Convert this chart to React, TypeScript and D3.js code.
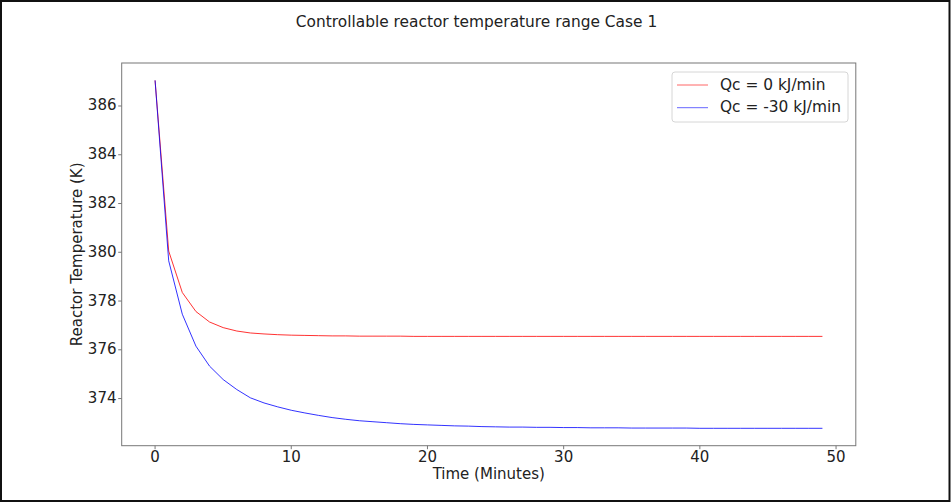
import React from "react";
import * as d3 from "d3";

const title = "Controllable reactor temperature range Case 1";
const xLabel = "Time (Minutes)";
const yLabel = "Reactor Temperature (K)";
const seriesNames = ["Qc = 0 kJ/min", "Qc = -30 kJ/min"];
const seriesColors = ["#ff0000", "#0000ff"];

const time = [
  0, 1, 2, 3, 4, 5, 6, 7, 8, 9, 10, 11, 12, 13, 14, 15, 16, 17, 18, 19, 20, 21, 22, 23, 24,
  25, 26, 27, 28, 29, 30, 31, 32, 33, 34, 35, 36, 37, 38, 39, 40, 41, 42, 43, 44, 45, 46, 47, 48, 49,
];

const tempQc0 = [
  387.05, 380.05, 378.35, 377.57, 377.14, 376.91, 376.77, 376.69, 376.65, 376.62,
  376.6, 376.59, 376.58, 376.57, 376.57, 376.56, 376.56, 376.56, 376.56, 376.55,
  376.55, 376.55, 376.55, 376.55, 376.55, 376.55, 376.55, 376.55, 376.55, 376.55,
  376.55, 376.55, 376.55, 376.55, 376.55, 376.55, 376.55, 376.55, 376.55, 376.55,
  376.55, 376.55, 376.55, 376.55, 376.55, 376.55, 376.55, 376.55, 376.55, 376.55,
];

const tempQcMinus30 = [
  387.05, 379.65, 377.46, 376.15, 375.33, 374.78, 374.37, 374.03, 373.82, 373.66,
  373.52, 373.41, 373.31, 373.22, 373.15, 373.09, 373.05, 373.01, 372.97, 372.94,
  372.92, 372.9, 372.88, 372.87, 372.85, 372.84, 372.83, 372.83, 372.82, 372.82,
  372.81, 372.81, 372.8, 372.8, 372.8, 372.79, 372.79, 372.79, 372.79, 372.79,
  372.78, 372.78, 372.78, 372.78, 372.78, 372.78, 372.78, 372.78, 372.78, 372.78,
];

const xTicks = [0, 10, 20, 30, 40, 50];
const yTicks = [374, 376, 378, 380, 382, 384, 386];

const W = 951;
const H = 502;
const plot = { left: 121.7, right: 855.8, top: 63, bottom: 445.7 };
const FONT = "'DejaVu Sans', sans-serif";

function pad(ext: [number, number]): [number, number] {
  const r = ext[1] - ext[0];
  return [ext[0] - r * 0.05, ext[1] + r * 0.05];
}

export default function App() {
  const allT = [...tempQc0, ...tempQcMinus30];
  const x = d3
    .scaleLinear()
    .domain(pad(d3.extent(time) as [number, number]))
    .range([plot.left, plot.right]);
  const y = d3
    .scaleLinear()
    .domain(pad(d3.extent(allT) as [number, number]))
    .range([plot.bottom, plot.top]);

  const series = [tempQc0, tempQcMinus30];
  const line = (vals: number[]) =>
    d3
      .line<number>()
      .x((_, i) => x(time[i]))
      .y((d) => y(d))(vals) || "";

  const legend = { x: 672, y: 72, w: 176, h: 50 };

  return (
    <svg
      width={W}
      height={H}
      style={{ position: "absolute", left: 0, top: 0, background: "#fff" }}
      fontFamily={FONT}
    >
      <rect x={0} y={0} width={W} height={H} fill="#fff" />
      <rect x={1} y={1} width={W - 2.5} height={H - 2} fill="none" stroke="#111" strokeWidth={2} />

      <text x={W / 2 + 1} y={22} textAnchor="middle" dominantBaseline="middle" fontSize={15.4} fill="#222">
        {title}
      </text>

      {/* series */}
      {series.map((s, i) => (
        <path key={i} d={line(s)} fill="none" stroke={seriesColors[i]} strokeWidth={1} strokeOpacity={0.8} />
      ))}

      {/* spines */}
      <rect
        x={plot.left}
        y={plot.top}
        width={plot.right - plot.left}
        height={plot.bottom - plot.top}
        fill="none"
        stroke="#777"
        strokeWidth={1}
      />

      {/* x ticks */}
      {xTicks.map((t) => (
        <g key={t}>
          <line x1={x(t)} x2={x(t)} y1={plot.bottom} y2={plot.bottom + 3.5} stroke="#777" />
          <text x={x(t)} y={457} textAnchor="middle" dominantBaseline="middle" fontSize={15} fill="#222">
            {t}
          </text>
        </g>
      ))}
      {/* y ticks */}
      {yTicks.map((t) => (
        <g key={t}>
          <line x1={plot.left - 3.5} x2={plot.left} y1={y(t)} y2={y(t)} stroke="#777" />
          <text x={116.5} y={y(t)} textAnchor="end" dominantBaseline="middle" fontSize={15} fill="#222">
            {t}
          </text>
        </g>
      ))}

      <text
        x={(plot.left + plot.right) / 2}
        y={474}
        textAnchor="middle"
        dominantBaseline="middle"
        fontSize={15}
        fill="#222"
      >
        {xLabel}
      </text>
      <text
        transform={`translate(77,${(plot.top + plot.bottom) / 2}) rotate(-90)`}
        textAnchor="middle"
        dominantBaseline="middle"
        fontSize={15}
        fill="#222"
      >
        {yLabel}
      </text>

      {/* legend */}
      <rect
        x={legend.x}
        y={legend.y}
        width={legend.w}
        height={legend.h}
        rx={3}
        fill="#fff"
        fillOpacity={0.8}
        stroke="#d6d6d6"
        strokeWidth={1}
      />
      {seriesNames.map((n, i) => (
        <g key={n}>
          <line
            x1={677}
            x2={708}
            y1={85 + i * 22.7}
            y2={85 + i * 22.7}
            stroke={seriesColors[i]}
            strokeWidth={1}
            strokeOpacity={0.6}
          />
          <text x={720} y={85 + i * 22.7} dominantBaseline="middle" fontSize={15.4} fill="#222">
            {n}
          </text>
        </g>
      ))}
    </svg>
  );
}
